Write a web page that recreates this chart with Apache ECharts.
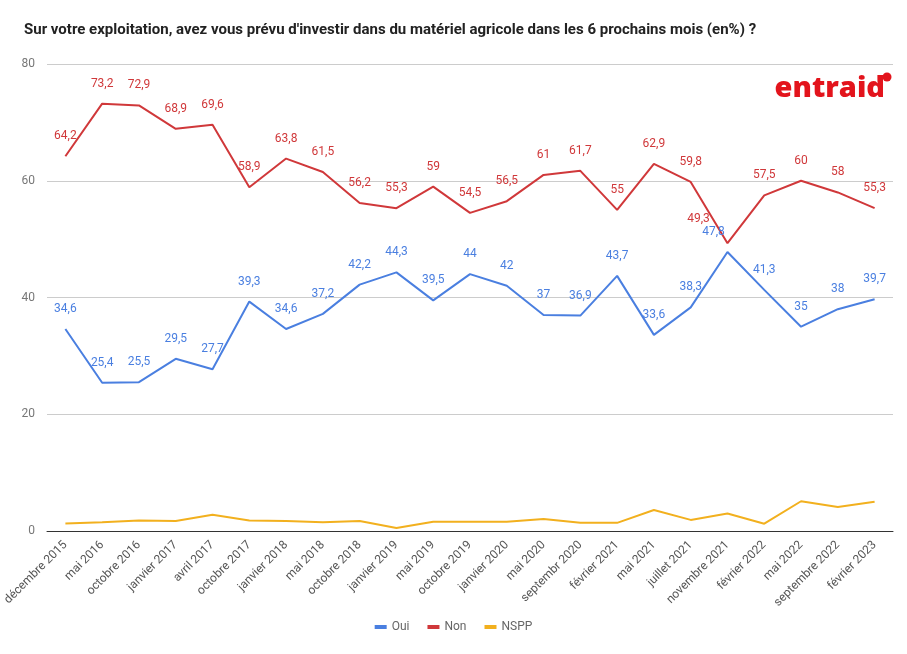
<!DOCTYPE html>
<html>
<head>
<meta charset="utf-8">
<script src="https://cdn.jsdelivr.net/npm/echarts@6/dist/echarts.min.js"></script>
<style>html,body{margin:0;padding:0;background:#fff}#c{width:907px;height:654px}</style>
</head>
<body>
<div id="c"></div>
<script>
const categories = ['décembre 2015','mai 2016','octobre 2016','janvier 2017','avril 2017','octobre 2017','janvier 2018','mai 2018','octobre 2018','janvier 2019','mai 2019','octobre 2019','janvier 2020','mai 2020','septembr 2020','février 2021','mai 2021','juillet 2021','novembre 2021','février 2022','mai 2022','septembre 2022','février 2023'];
const oui = [34.6,25.4,25.5,29.5,27.7,39.3,34.6,37.2,42.2,44.3,39.5,44,42,37,36.9,43.7,33.6,38.3,47.8,41.3,35,38,39.7];
const non = [64.2,73.2,72.9,68.9,69.6,58.9,63.8,61.5,56.2,55.3,59,54.5,56.5,61,61.7,55,62.9,59.8,49.3,57.5,60,58,55.3];
const nspp = [1.3,1.5,1.8,1.7,2.8,1.8,1.7,1.5,1.7,0.5,1.6,1.6,1.6,2.05,1.4,1.4,3.6,1.9,3.0,1.25,5.1,4.1,5.0];
const yTicks = [0,20,40,60,80];

const FONT = 'Roboto, Arial, sans-serif';
const fmt = p => String(p.value).replace('.', ',');
function lbl(color){
  return {show:true, position:'top', distance:14, color:color, fontSize:12, fontFamily:FONT, formatter:fmt};
}
const chart = echarts.init(document.getElementById('c'), null, {renderer:'canvas'});
chart.setOption({
  animation:false,
  title:{text:"Sur votre exploitation, avez vous prévu d'investir dans du matériel agricole dans les 6 prochains mois (en%) ?",
    left:19, top:18, textStyle:{fontFamily:FONT, fontSize:15, fontWeight:'bold', color:'#222'}},
  grid:{left:47, right:14, top:64, bottom:123},
  legend:{bottom:16, left:'center', icon:'rect', itemWidth:12, itemHeight:4, itemGap:18,
    textStyle:{fontFamily:FONT, fontSize:12, color:'#666'}, data:['Oui','Non','NSPP']},
  xAxis:{type:'category', data:categories, boundaryGap:true,
    axisLine:{lineStyle:{color:'#333', width:1}}, axisTick:{show:false},
    axisLabel:{rotate:45, interval:0, color:'#555', fontSize:12, fontFamily:FONT, margin:12}},
  yAxis:{type:'value', min:0, max:80, interval:20,
    axisLine:{show:false}, axisTick:{show:false},
    axisLabel:{color:'#777', fontSize:12, fontFamily:FONT, margin:12, formatter:v=>yTicks.includes(v)?String(v):''},
    splitLine:{lineStyle:{color:'#ccc'}}},
  series:[
    {name:'Oui', type:'line', data:oui.map((v,i)=> i===18 ? {value:v, label:{offset:[-14,0]}} : v),
      symbol:'circle', symbolSize:0.1, showSymbol:true, color:'#4a7fe0', lineStyle:{width:2}, label:lbl('#4a7fe0')},
    {name:'Non', type:'line', data:non.map((v,i)=> i===18 ? {value:v, label:{offset:[-29,-4]}} : v),
      symbol:'circle', symbolSize:0.1, showSymbol:true, color:'#d0383a', lineStyle:{width:2}, label:lbl('#d0383a')},
    {name:'NSPP', type:'line', data:nspp, symbol:'none', color:'#f2b01e', lineStyle:{width:2}}
  ],
  graphic:[
    {type:'text', right:22, top:74, style:{text:'entraid', font:'900 29px "Open Sans", Roboto, sans-serif', fill:'#e3141c'}},
    {type:'circle', shape:{cx:887, cy:77, r:4.5}, style:{fill:'#e3141c'}}
  ]
});
</script>
</body>
</html>
